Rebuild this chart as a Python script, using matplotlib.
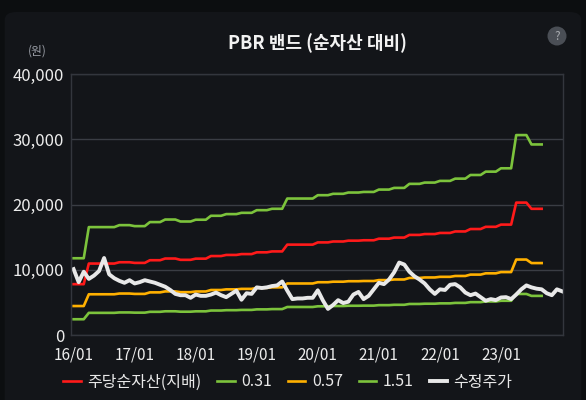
import matplotlib.pyplot as plt
import numpy as np
from matplotlib.patches import FancyBboxPatch, Ellipse

plt.rcParams['font.family'] = ['Noto Sans CJK KR', 'DejaVu Sans']

# quarterly book value per share (16Q1 .. 23Q3), shown monthly
bps_quarterly = [7790, 10950, 10950, 11150, 11050, 11460, 11720, 11520,
                 11700, 12100, 12270, 12400, 12670, 12810, 13850, 13850,
                 14190, 14330, 14460, 14520, 14760, 14930, 15340, 15470,
                 15640, 15870, 16240, 16580, 16920, 20290, 19340]
pbr_multiples = [0.31, 0.57, 1.51]

# monthly adjusted price, 16/01 .. 24/01
price = [10100, 8100, 9700, 8600, 9100, 9800, 11800, 9300, 8700, 8300, 8000, 8400,
         7900, 8100, 8400, 8200, 8000, 7700, 7400, 6900, 6300, 6100, 6100, 5700,
         6200, 6000, 6000, 6200, 6500, 6100, 5800, 6300, 6800, 5400, 6400, 6300,
         7300, 7200, 7300, 7500, 7600, 8200, 6800, 5500, 5600, 5600, 5700, 5700,
         6850, 5300, 4000, 4600, 5340, 4900, 5100, 6200, 6600, 5500, 6000, 7000,
         8000, 7800, 8500, 9600, 11100, 10800, 9700, 9000, 8500, 7900, 7000, 6300,
         7000, 6900, 7700, 7800, 7300, 6500, 6100, 6350, 5800, 5250, 5500, 5350,
         5750, 5800, 5500, 6200, 7000, 7600, 7300, 7100, 7000, 6400, 6100, 7000, 6700]

tick_labels = ['16/01', '17/01', '18/01', '19/01', '20/01', '21/01', '22/01', '23/01']

bps = np.repeat(bps_quarterly, 3)
months_bps = np.arange(len(bps))
months_price = np.arange(len(price))

bg = '#131519'
fig = plt.figure(figsize=(5.86, 4.0), dpi=100, facecolor='#0c0e10')
card = FancyBboxPatch((0.008, -0.05), 0.984, 1.02, boxstyle='round,pad=0,rounding_size=0.02',
                      transform=fig.transFigure, facecolor=bg, edgecolor='none', zorder=-10)
fig.patches.append(card)

ax = fig.add_axes([0.1212, 0.1625, 0.8396, 0.6525])
ax.set_facecolor(bg)

ax.plot(months_bps, bps, color='#ff1a1a', lw=1.9, label='주당순자산(지배)')
band_colors = ['#7cc33c', '#ffb000', '#7cc33c']
for m, c in zip(pbr_multiples, band_colors):
    ax.plot(months_bps, bps * m, color=c, lw=1.9, label=str(m))
ax.plot(months_price, price, color='#e8e8e8', lw=2.8, label='수정주가')

ax.set_ylim(0, 40000)
ax.set_xlim(-0.5, 96.2)
ax.set_yticks([0, 10000, 20000, 30000, 40000])
ax.set_yticklabels(['0', '10,000', '20,000', '30,000', '40,000'])
ax.set_xticks(np.arange(0, 96, 12))
ax.set_xticklabels(tick_labels)
ax.tick_params(colors='#ececec', length=0)
ax.tick_params(axis='y', labelsize=12, pad=5)
ax.tick_params(axis='x', labelsize=11, pad=8)
for lab in ax.get_xticklabels() + ax.get_yticklabels():
    lab.set_fontweight('medium')
ax.grid(axis='y', color='#3a3d44', lw=1)
ax.set_axisbelow(True)
for s in ax.spines.values():
    s.set_color('#33363d')
    s.set_linewidth(1)

fig.text(0.541, 0.893, 'PBR 밴드 (순자산 대비)', color='#f2f2f2', fontsize=13,
         fontweight='bold', ha='center', va='center')
fig.text(0.064, 0.872, '(원)', color='#9a9ea6', fontsize=8.5, ha='center', va='center')

fig.patches.append(Ellipse((557 / 586, 1 - 36 / 400), 19 / 586, 19 / 400, transform=fig.transFigure,
                           facecolor='#4a4e55', edgecolor='none'))
fig.text(557 / 586, 1 - 36 / 400, '?', color='#a8abb0', fontsize=8.5, ha='center', va='center')

leg = fig.legend(loc='center', bbox_to_anchor=(0.491, 0.045), ncol=5, frameon=False,
                 fontsize=11.5, handlelength=1.1, columnspacing=1.0, handletextpad=0.4)
for t in leg.get_texts():
    t.set_color('#e8e8e8')

fig.savefig('out.png', dpi=100, facecolor=fig.get_facecolor())
